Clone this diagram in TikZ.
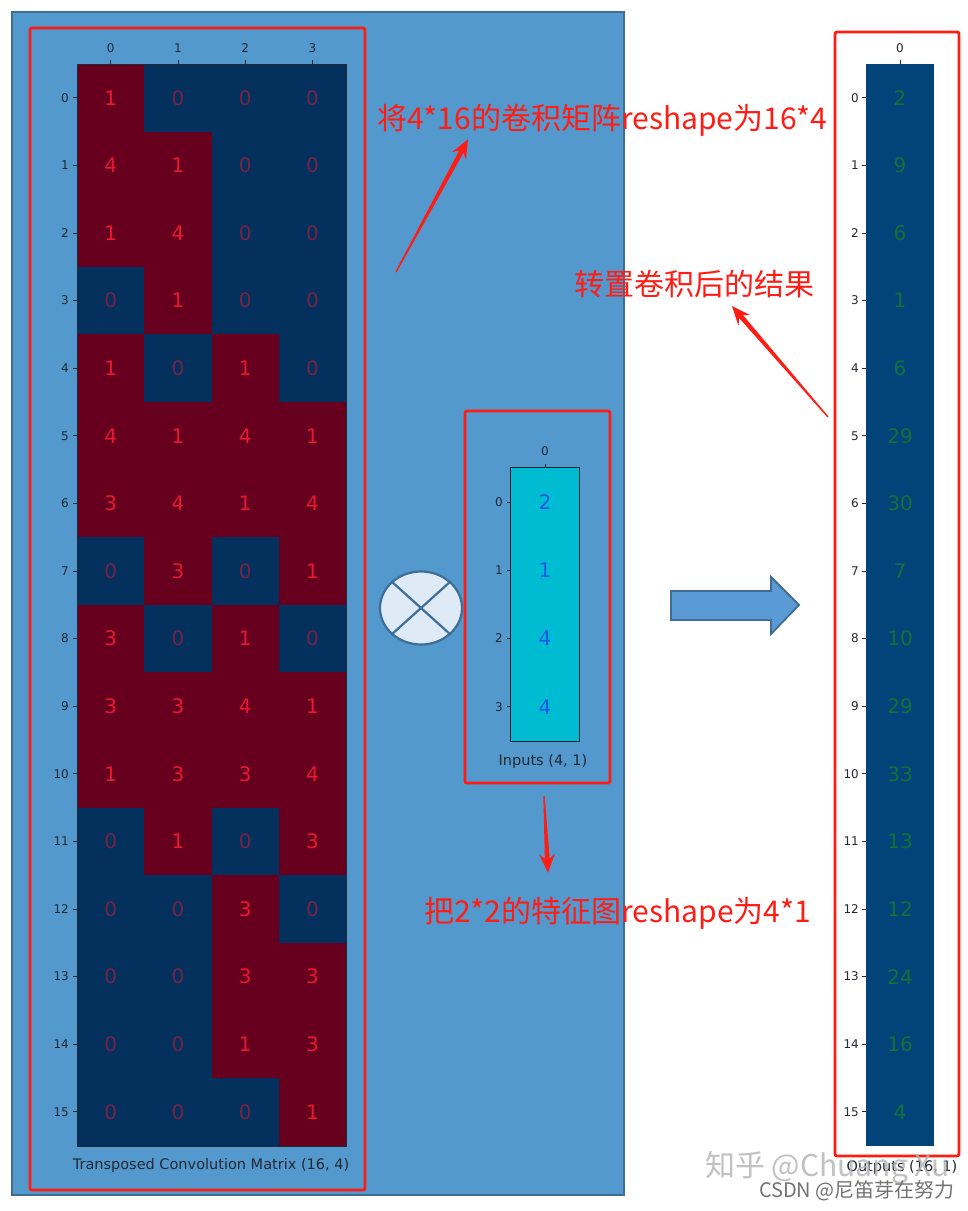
\documentclass[tikz,border=0pt]{standalone}
\usepackage{fontspec}
\setmainfont{DejaVu Sans}
\newfontfamily\cjk{Noto Sans CJK SC}
\usetikzlibrary{calc,shapes.geometric}

\definecolor{bgblue}{RGB}{84,153,205}
\definecolor{bgedge}{RGB}{62,110,150}
\definecolor{annored}{RGB}{255,28,20}
\definecolor{matred}{RGB}{103,0,31}
\definecolor{matblue}{RGB}{3,48,92}
\definecolor{numred}{RGB}{232,24,48}
\definecolor{outblue}{RGB}{2,68,122}
\definecolor{numgreen}{RGB}{18,112,56}
\definecolor{incyan}{RGB}{0,188,210}
\definecolor{numblue}{RGB}{30,88,228}
\definecolor{crossfill}{RGB}{222,234,246}
\definecolor{arrowfill}{RGB}{91,155,213}
\definecolor{tickcol}{RGB}{35,40,50}

\tikzset{
  ticklab/.style={font=\fontsize{12}{12}\selectfont, text=tickcol, inner sep=0pt},
  axlabel/.style={font=\fontsize{14.5}{15}\selectfont, text=tickcol, inner sep=0pt},
  cellbox/.style={minimum width=67.3pt, minimum height=67.6pt, inner sep=0pt, font=\fontsize{20}{20}\selectfont},
  nzcell/.style={cellbox, fill=matred, text=numred},
  zcell/.style={cellbox, fill=matblue, text=numred, text opacity=0.5},
  incell/.style={cellbox, minimum width=68pt, minimum height=68.2pt, fill=incyan, text=numblue},
  outcell/.style={cellbox, minimum width=68pt, fill=outblue, text=numgreen},
  redbox/.style={draw=annored, line width=2.8pt, rounded corners=2pt},
  annot/.style={font=\cjk\fontsize{30}{32}\selectfont, text=annored, inner sep=0pt},
}

% thin red pointer, widening toward its head
\newcommand{\redpointer}[2]{%
  \path ($(#2)!14pt!(#1)$) coordinate (rp-neck) ($(#2)!19pt!(#1)$) coordinate (rp-barb);
  \fill[annored] ($(#1)!0.7pt!90:(#2)$) -- ($(rp-neck)!2.4pt!90:(#2)$) -- ($(rp-barb)!8pt!90:(#2)$) -- (#2)
    -- ($(rp-barb)!8pt!-90:(#2)$) -- ($(rp-neck)!2.4pt!-90:(#2)$) -- ($(#1)!0.7pt!-90:(#2)$) -- cycle;
}

\begin{document}
\begin{tikzpicture}[x=1pt, y=-1pt]
  \useasboundingbox[fill=white] (0,0) rectangle (968,1211);
  \draw[fill=bgblue, draw=bgedge, line width=2pt] (12,12) rectangle (624,1195);

  % transposed convolution matrix
  \foreach \row [count=\r from 0] in {{1,0,0,0},{4,1,0,0},{1,4,0,0},{0,1,0,0},
      {1,0,1,0},{4,1,4,1},{3,4,1,4},{0,3,0,1},{3,0,1,0},{3,3,4,1},{1,3,3,4},
      {0,1,0,3},{0,0,3,0},{0,0,3,3},{0,0,1,3},{0,0,0,1}} {
    \foreach \v [count=\c from 0] in \row {
      \ifnum\v=0 \def\cellstyle{zcell}\else\def\cellstyle{nzcell}\fi
      \node[\cellstyle] (c\r-\c) at (110.65+67.3*\c, 97.8+67.6*\r) {\v};
    }
  }
  \draw[tickcol, line width=0.6pt] (c0-0.north west) rectangle (c15-3.south east);
  \foreach \c in {0,...,3} {
    \draw[tickcol, line width=0.8pt] (c0-\c.north) -- ++(0,-4);
    \node[ticklab] (mcol\c) at (110.65+67.3*\c, 48) {\c};
  }
  \foreach \r in {0,...,15} {
    \draw[tickcol, line width=0.8pt] (c\r-0.west) -- ++(-4,0);
    \node[ticklab, anchor=east] (mrow\r) at (69, 97.8+67.6*\r) {\r};
  }
  \node[axlabel] (mattitle) at (211,1165) {Transposed Convolution Matrix (16, 4)};
  \draw[redbox] (30,28) rectangle (365,1190);

  % multiply sign
  \node[ellipse, draw=bgedge, fill=crossfill, line width=2.2pt, minimum width=82pt, minimum height=73pt] (otimes) at (421,608) {};
  \draw[bgedge, line width=2.2pt] (otimes.42) -- (otimes.222) (otimes.138) -- (otimes.318);

  % inputs
  \foreach \v [count=\r from 0] in {2,1,4,4} {
    \node[incell] (i\r) at (545, 502.1+68.2*\r) {\v};
    \draw[tickcol, line width=0.8pt] (i\r.west) -- ++(-4,0);
    \node[ticklab, anchor=east] (irow\r) at (503, 502.1+68.2*\r) {\r};
  }
  \draw[black!70!teal, line width=1pt] (i0.north west) rectangle (i3.south east);
  \draw[tickcol, line width=0.8pt] (i0.north) -- ++(0,-4);
  \node[ticklab] (icol0) at (545,451) {0};
  \node[axlabel] (inlabel) at (543,761) {Inputs (4, 1)};
  \draw[redbox] (465,411) rectangle (610,783);

  % block arrow
  \draw[fill=arrowfill, draw=bgedge, line width=1.8pt, line join=miter]
    (671,591) -- (771,591) -- (771,577) -- (799,605) -- (771,634) -- (771,620) -- (671,620) -- cycle;

  % outputs
  \foreach \v [count=\r from 0] in {2,9,6,1,6,29,30,7,10,29,33,13,12,24,16,4} {
    \node[outcell] (o\r) at (900, {97.8+67.6*\r}) {\v};
    \draw[tickcol, line width=0.8pt] (o\r.west) -- ++(-4,0);
    \node[ticklab, anchor=east] (orow\r) at (859, {97.8+67.6*\r}) {\r};
  }
  \draw[tickcol, line width=0.8pt] (o0.north) -- ++(0,-4);
  \node[ticklab] (ocol0) at (900,48) {0};
  \node[axlabel] (outlabel) at (902,1167) {Outputs (16, 1)};
  \draw[redbox] (835,32) rectangle (959,1156);

  % annotations
  \node[annot, anchor=west] (txtreshape) at (377,120) {将4*16的卷积矩阵reshape为16*4};
  \node[annot, anchor=west] (txtresult) at (574,284) {转置卷积后的结果};
  \node[annot, anchor=west] (txtfeature) at (424,913) {把2*2的特征图reshape为4*1};
  \coordinate (tailA) at (396,272);
  \coordinate (tipA) at ([xshift=91pt,yshift=-3pt]txtreshape.south west);
  \coordinate (tailB) at (828,417);
  \coordinate (tipB) at ([xshift=158pt,yshift=-8pt]txtresult.south west);
  \coordinate (tailC) at (544,796);
  \coordinate (tipC) at ([xshift=124pt,yshift=24pt]txtfeature.north west);
  \redpointer{tailA}{tipA}
  \redpointer{tailB}{tipB}
  \redpointer{tailC}{tipC}

  % watermarks
  \node[font=\cjk\fontsize{30}{32}\selectfont, text=black!30, text opacity=0.8, anchor=west, inner sep=0pt] (wmzhihu) at (705,1168) {知乎 @Chuang Xu};
  \node[font=\cjk\fontsize{20}{22}\selectfont, text=black!55, anchor=east, inner sep=0pt] (wmcsdn) at (955,1191) {CSDN @尼笛芽在努力};
\end{tikzpicture}
\end{document}
